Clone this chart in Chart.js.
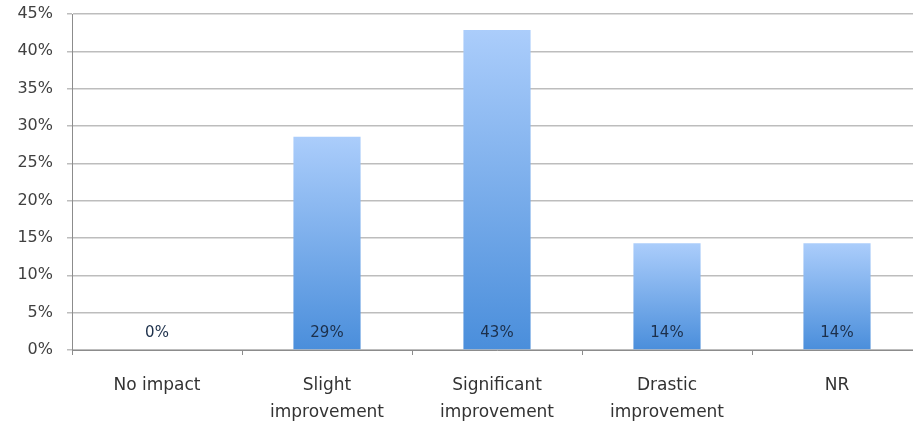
<!DOCTYPE html>
<html>
<head>
<meta charset="utf-8">
<script src="https://cdn.jsdelivr.net/npm/chart.js@4/dist/chart.umd.min.js"></script>
<style>
  html, body { margin: 0; padding: 0; background: #fff; }
  #wrap { width: 913px; height: 424px; overflow: hidden; position: relative; }
  canvas { display: block; }
</style>
</head>
<body>
<div id="wrap"><canvas id="c" width="924" height="424"></canvas></div>
<script>
const categories = ["No impact", ["Slight", "improvement"], ["Significant", "improvement"], ["Drastic", "improvement"], "NR"];
const values = [0, 28.57, 42.86, 14.29, 14.29];
const valueLabels = ["0%", "29%", "43%", "14%", "14%"];
const yTicks = [0, 5, 10, 15, 20, 25, 30, 35, 40, 45];

const FONT = "'DejaVu Sans', 'Open Sans', sans-serif";

const labelPlugin = {
  id: 'valLabels',
  afterDatasetsDraw(chart) {
    const ctx = chart.ctx;
    const xs = chart.scales.x, ys = chart.scales.y;
    ctx.save();
    ctx.font = "15px " + FONT;
    ctx.fillStyle = "#1c2f4a";
    ctx.textAlign = "center";
    ctx.textBaseline = "middle";
    values.forEach((v, i) => {
      ctx.fillText(valueLabels[i], xs.getPixelForValue(i), ys.getPixelForValue(0) - 17);
    });
    ctx.restore();
  }
};

new Chart(document.getElementById('c'), {
  type: 'bar',
  data: {
    labels: categories,
    datasets: [{
      data: values,
      backgroundColor(ctx) {
        const chart = ctx.chart;
        const ys = chart.scales.y;
        if (!ys || ctx.raw === undefined) return '#7aaeea';
        const top = ys.getPixelForValue(ctx.raw);
        const bottom = ys.getPixelForValue(0);
        if (!isFinite(top) || !isFinite(bottom) || bottom - top < 1) return '#4a8edb';
        const g = chart.ctx.createLinearGradient(0, top, 0, bottom);
        g.addColorStop(0, '#abcdfb');
        g.addColorStop(1, '#4a8edb');
        return g;
      },
      borderWidth: 0,
      categoryPercentage: 1,
      barPercentage: 0.395
    }]
  },
  options: {
    responsive: false,
    animation: false,
    layout: { padding: { top: 14, right: 2, left: 0, bottom: 0 } },
    plugins: { legend: { display: false }, tooltip: { enabled: false } },
    scales: {
      x: {
        grid: { display: true, drawOnChartArea: false, drawTicks: true, tickLength: 5, color: '#8c8c8c', offset: true },
        border: { display: true, color: '#8c8c8c', width: 1 },
        ticks: { color: '#333', font: { family: FONT, size: 17, lineHeight: 1.6 }, padding: 17, maxRotation: 0, autoSkip: false },
        afterFit(s) { s.height = 74; s.paddingTop = 0; s.paddingBottom = 0; }
      },
      y: {
        min: 0, max: 45,
        afterBuildTicks(s) { s.ticks = yTicks.map(v => ({ value: v })); },
        grid: { color: '#bdbdbd', lineWidth: 1.5, drawTicks: true, tickLength: 5 },
        border: { display: true, color: '#8c8c8c', width: 1 },
        ticks: { color: '#404040', font: { family: FONT, size: 16 }, padding: 14, callback: v => v + '%' },
        afterFit(s) { s.width = 72; s.paddingTop = 0; s.paddingBottom = 0; }
      }
    }
  },
  plugins: [labelPlugin]
});
</script>
</body>
</html>
